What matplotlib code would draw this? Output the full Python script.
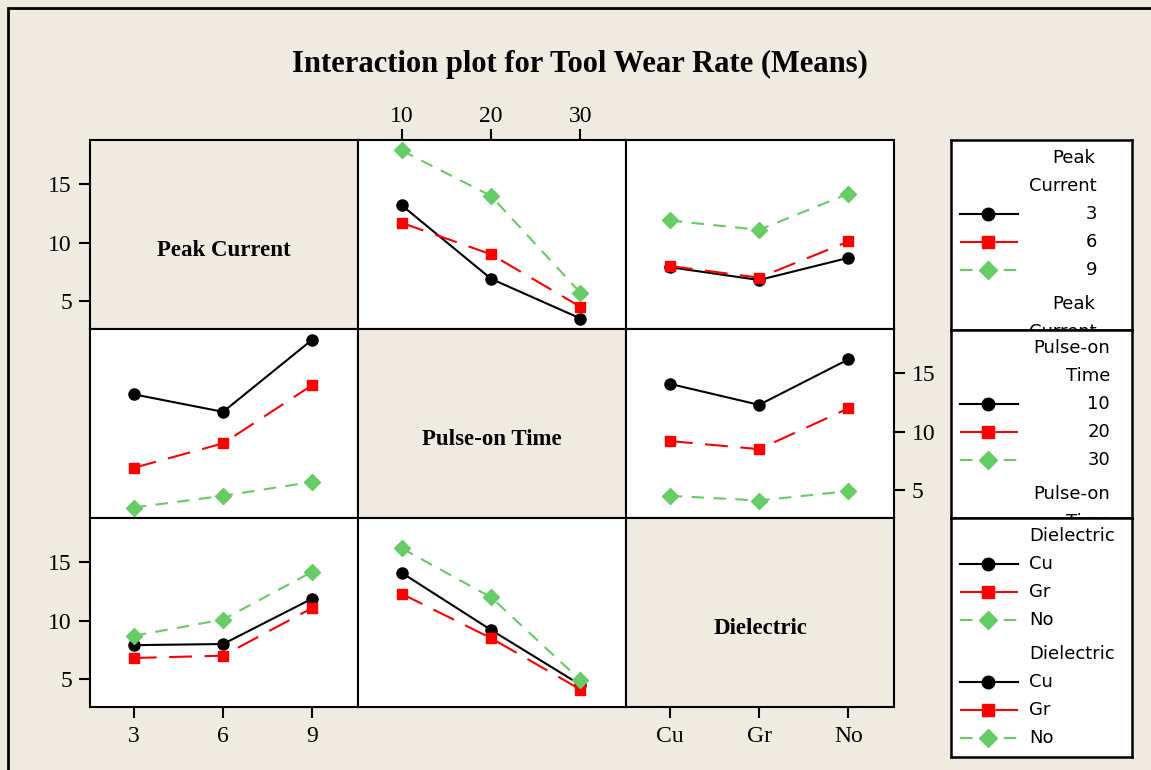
import numpy as np
import matplotlib.pyplot as plt
from matplotlib.lines import Line2D
from matplotlib.patches import Rectangle

# factor levels
pc_levels = ['3', '6', '9']
pt_levels = ['10', '20', '30']
diel_levels = ['Cu', 'Gr', 'No']

# mean tool wear rate, rows = first factor level, cols = second factor level
pc_pt = [[13.2, 6.9, 3.5],
         [11.7, 9.0, 4.5],
         [17.9, 14.0, 5.7]]
pc_diel = [[7.9, 6.8, 8.7],
           [8.0, 7.0, 10.1],
           [11.9, 11.1, 14.2]]
pt_diel = [[14.1, 12.3, 16.2],
           [9.2, 8.5, 12.0],
           [4.5, 4.1, 4.9]]

factor_names = ['Peak Current', 'Pulse-on Time', 'Dielectric']
legend_titles = [['Peak', 'Current'], ['Pulse-on', 'Time'], ['Dielectric']]
levels = [pc_levels, pt_levels, diel_levels]
yticks = [5, 10, 15]

tables = {(0, 1): np.array(pc_pt), (0, 2): np.array(pc_diel), (1, 2): np.array(pt_diel)}

beige = '#efebe1'
styles = [dict(color='black', ls='-', marker='o', ms=8, dashes=()),
          dict(color='#ff0000', ls='--', marker='s', ms=7.5, dashes=(11, 6)),
          dict(color='#66cc66', ls='--', marker='D', ms=8.5, dashes=(6, 4.5))]

W, H = 1151, 770
fig = plt.figure(figsize=(W / 100, H / 100), dpi=100, facecolor=beige)
serif = 'Liberation Serif'
sans = 'DejaVu Sans'

# outer frame
fig.patches.append(Rectangle((8 / W, -0.1), 1.2, 1 - 8 / H + 0.1, transform=fig.transFigure,
                             fill=False, ec='black', lw=2))

fig.text(580 / W, 1 - 64 / H, 'Interaction plot for Tool Wear Rate (Means)', ha='center', va='center',
         family=serif, weight='bold', fontsize=22)

cols = [90, 358, 626, 894]
rows = [140, 329, 518, 707]


def px_ax(x0, x1, y0, y1):
    return fig.add_axes([x0 / W, 1 - y1 / H, (x1 - x0) / W, (y1 - y0) / H])


for i in range(3):          # row: trace factor
    for j in range(3):      # col: x factor
        ax = px_ax(cols[j], cols[j + 1], rows[i], rows[i + 1])
        ax.set_xlim(-0.49, 2.51)
        ax.set_ylim(2.6, 18.8)
        for s in ax.spines.values():
            s.set_linewidth(1.5)
        ax.tick_params(length=0, labelleft=False, labelbottom=False)
        if i == j:
            ax.set_facecolor(beige)
            ax.text(0.5, 0.5 - 16 / 189, factor_names[i], transform=ax.transAxes, ha='center', va='center',
                    family=serif, weight='bold', fontsize=16.5)
        else:
            ax.set_facecolor('white')
            if i < j:
                tab = tables[(i, j)]
            else:
                tab = tables[(j, i)].T
            for k in range(3):
                st = styles[k]
                ln, = ax.plot(range(3), tab[k], color=st['color'], ls=st['ls'], lw=1.5,
                              marker=st['marker'], ms=st['ms'], mec=st['color'], mfc=st['color'])
                if st['dashes']:
                    ln.set_dashes(st['dashes'])
        ax.set_xticks(range(3))
        ax.set_yticks(yticks)
        tk = dict(length=8, width=1.5, labelsize=17)
        # x ticks
        if j == 1 and i == 0:
            ax.xaxis.tick_top()
            ax.tick_params(axis='x', top=True, labeltop=True, pad=1, **tk)
            ax.set_xticklabels(levels[j], family=serif)
        elif i == 2 and j != 1:
            ax.tick_params(axis='x', bottom=True, labelbottom=True, pad=6, **tk)
            ax.set_xticklabels(levels[j], family=serif)
        # y ticks
        if j == 0 and i != 1:
            ax.tick_params(axis='y', left=True, labelleft=True, pad=5, **tk)
            ax.set_yticklabels(yticks, family=serif)
        elif j == 2 and i == 1:
            ax.yaxis.tick_right()
            ax.tick_params(axis='y', right=True, labelright=True, pad=5, **tk)
            ax.set_yticklabels(yticks, family=serif)

# legend boxes (contents repeat and get clipped by the box like the original)
boxes = [(140, 330), (330, 518), (518, 757)]
lx0, lx1 = 951, 1132
for b, (y0, y1) in enumerate(boxes):
    lax = px_ax(lx0, lx1, y0, y1)
    lax.set_xlim(lx0, lx1)
    lax.set_ylim(y1, y0)
    lax.set_xticks([])
    lax.set_yticks([])
    lax.set_facecolor('white')
    for s in lax.spines.values():
        s.set_linewidth(1.8)
    title = legend_titles[b]
    if b == 2:
        ha, tx = 'left', 1029
    elif b == 1:
        ha, tx = 'right', 1110
    else:
        ha, tx = 'right', 1097
    y = y0 + 18
    for rep in range(2):
        for t in title:
            lax.text(tx if t != 'Peak' else tx - 2, y, t, ha=ha, va='center', family=sans, fontsize=13,
                     clip_on=True)
            y += 28
        for k, lev in enumerate(levels[b]):
            st = styles[k]
            hl = Line2D([960, 1018], [y, y], color=st['color'], ls=st['ls'], lw=1.5)
            if st['dashes']:
                hl.set_dashes(st['dashes'])
            lax.add_line(hl)
            lax.plot([988], [y], marker=st['marker'], ms=st['ms'] + 1, color=st['color'], clip_on=True)
            lax.text(tx, y, lev, ha=ha, va='center', family=sans, fontsize=13, clip_on=True)
            y += 28
        y += 6

fig.savefig('out.png', dpi=100, facecolor=beige)
